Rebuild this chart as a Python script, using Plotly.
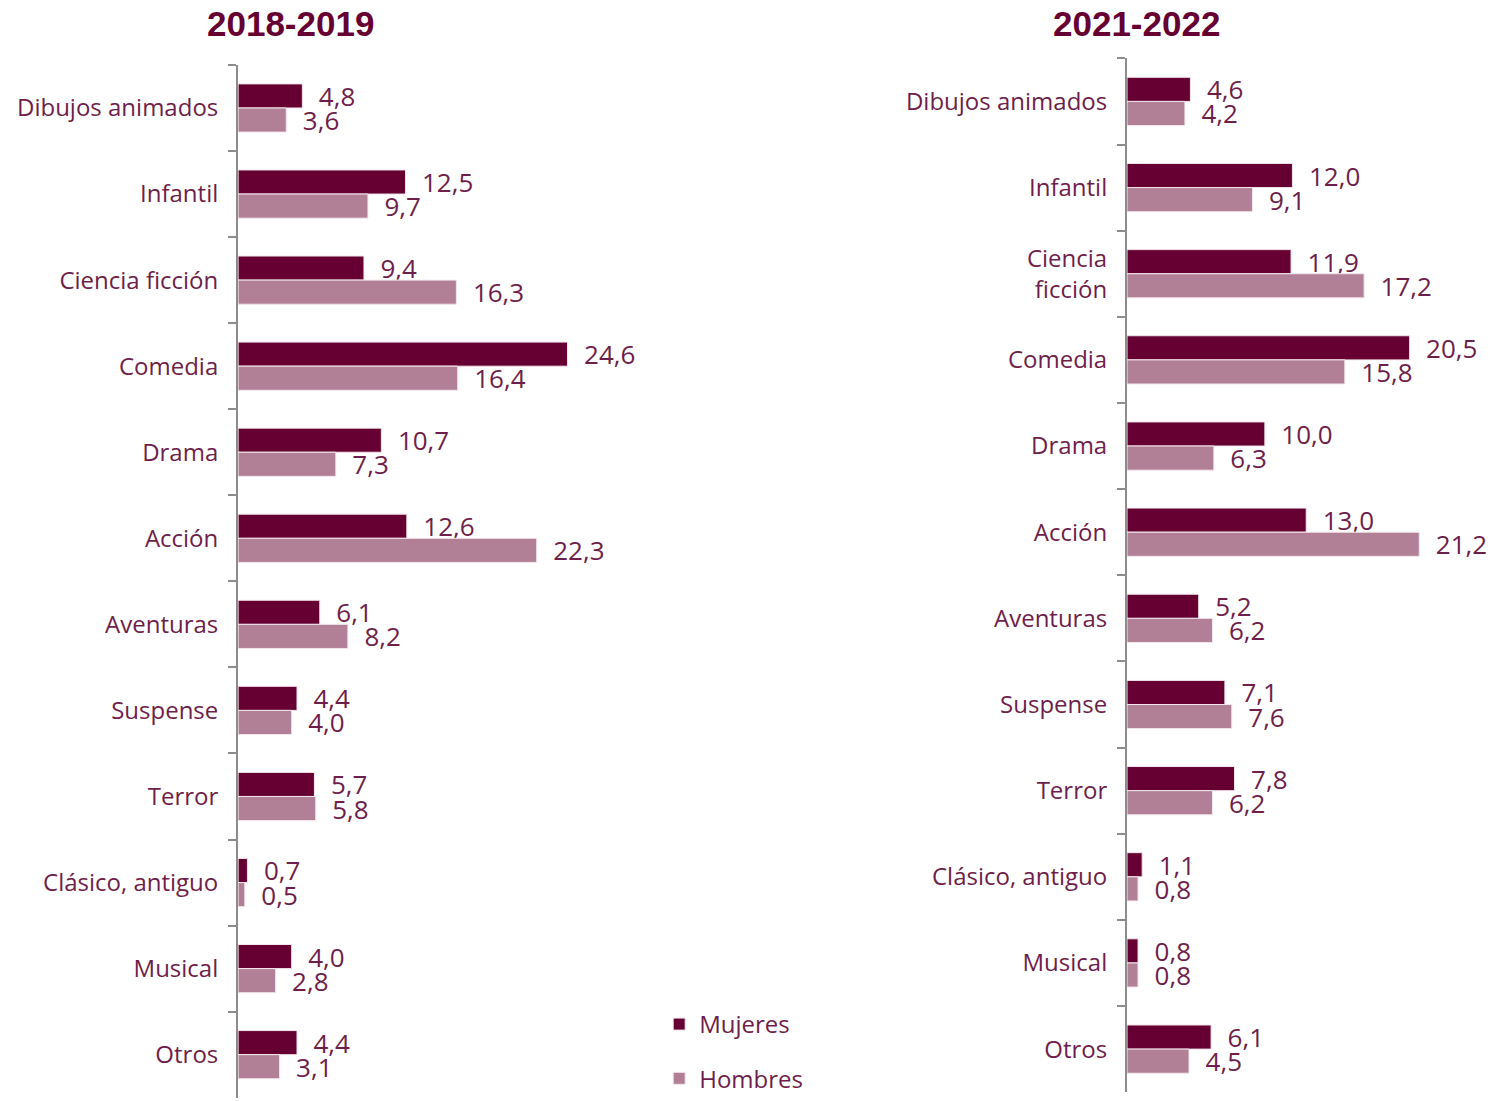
import plotly.graph_objects as go
from plotly.subplots import make_subplots

# ── DATA ────────────────────────────────────────────────────
categories = ["Dibujos animados", "Infantil", "Ciencia ficción", "Comedia", "Drama",
              "Acción", "Aventuras", "Suspense", "Terror", "Clásico, antiguo",
              "Musical", "Otros"]
labels_2122 = ["Dibujos animados", "Infantil", "Ciencia<br>ficción", "Comedia", "Drama",
               "Acción", "Aventuras", "Suspense", "Terror", "Clásico, antiguo",
               "Musical", "Otros"]

mujeres_1819 = [4.8, 12.5, 9.4, 24.6, 10.7, 12.6, 6.1, 4.4, 5.7, 0.7, 4.0, 4.4]
hombres_1819 = [3.6, 9.7, 16.3, 16.4, 7.3, 22.3, 8.2, 4.0, 5.8, 0.5, 2.8, 3.1]
mujeres_2122 = [4.6, 12.0, 11.9, 20.5, 10.0, 13.0, 5.2, 7.1, 7.8, 1.1, 0.8, 6.1]
hombres_2122 = [4.2, 9.1, 17.2, 15.8, 6.3, 21.2, 6.2, 7.6, 6.2, 0.8, 0.8, 4.5]

# ── STYLE ───────────────────────────────────────────────────
C_MUJ  = "#660033"
C_HOM  = "#b28096"
C_TEXT = "#6e1e4a"
FONT   = "Open Sans"
GAP    = "\u00a0\u00a0"

fig = make_subplots(rows=1, cols=2)


def add_pair(col, muj, hom, show):
    for vals, name, color, grp in [(muj, "Mujeres", C_MUJ, "m"), (hom, "Hombres", C_HOM, "h")]:
        fig.add_trace(go.Bar(
            y=categories, x=vals, orientation="h", name=name,
            marker=dict(color=color, line=dict(color="#f3e6ec", width=1)),
            texttemplate=GAP + "%{x:.1f}", textposition="outside",
            textfont=dict(color=C_TEXT, size=26, family=FONT),
            constraintext="none", cliponaxis=False,
            legendgroup=grp, showlegend=show
        ), row=1, col=col)


add_pair(1, mujeres_1819, hombres_1819, True)
add_pair(2, mujeres_2122, hombres_2122, False)

axis_y = dict(
    autorange="reversed", showline=True, linecolor="#8c8c8c", linewidth=2,
    ticks="outside", ticklen=8, tickwidth=2, tickcolor="#8c8c8c",
    tickson="boundaries", showgrid=False, automargin=False,
    tickfont=dict(color=C_TEXT, size=24, family=FONT),
    ticklabelstandoff=13
)
axis_x = dict(visible=False, showgrid=False, zeroline=False, automargin=False)

fig.update_layout(
    template="none",
    width=1488, height=1101, autosize=False,
    margin=dict(l=0, r=0, t=0, b=0),
    paper_bgcolor="white", plot_bgcolor="white",
    barmode="group", bargap=0.44, bargroupgap=0,
    separators=", ",
    font=dict(family=FONT, color=C_TEXT),
    xaxis=dict(axis_x, domain=[0.160, 0.430], range=[0, 30]),
    xaxis2=dict(axis_x, domain=[0.7574, 0.989], range=[0, 25]),
    yaxis=dict(axis_y, domain=[0.003, 0.941]),
    yaxis2=dict(axis_y, domain=[0.008, 0.947],
                tickmode="array", tickvals=categories, ticktext=labels_2122),
    # legend kept fully inside the paper so it does not push the bottom margin
    legend=dict(
        x=0.443, y=0, xanchor="left", yanchor="bottom",
        traceorder="grouped", tracegroupgap=20,
        font=dict(size=24, color=C_TEXT, family=FONT),
        bgcolor="rgba(0,0,0,0)"
    ),
    annotations=[
        dict(text="<b>2018-2019</b>", x=0.195, y=0.998, xref="paper", yref="paper",
             xanchor="center", yanchor="top", showarrow=False,
             font=dict(family="Liberation Sans", size=35, color=C_MUJ)),
        dict(text="<b>2021-2022</b>", x=0.764, y=0.998, xref="paper", yref="paper",
             xanchor="center", yanchor="top", showarrow=False,
             font=dict(family="Liberation Sans", size=35, color=C_MUJ)),
    ]
)

fig.write_html("out.html", config={"responsive": False, "displayModeBar": False},
               post_script="document.body.style.margin='0';")
